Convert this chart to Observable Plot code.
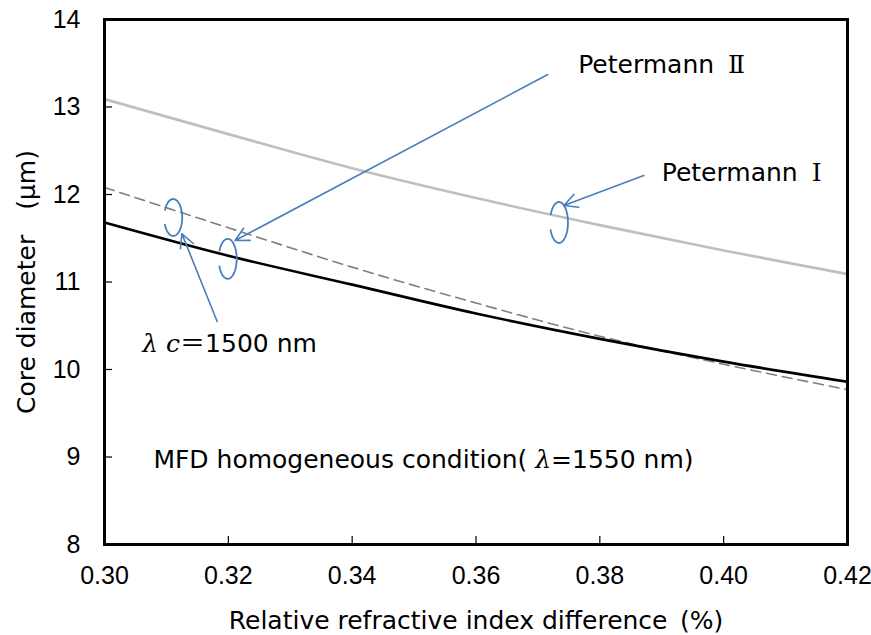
<!DOCTYPE html>
<html><head><meta charset="utf-8">
<script src="https://cdn.jsdelivr.net/npm/d3@7"></script>
<script src="https://cdn.jsdelivr.net/npm/@observablehq/plot@0.6"></script>
<style>html,body{margin:0;padding:0;background:#fff;overflow:hidden}</style>
</head><body><div id="chart"></div>
<script>
// Data
const deltaPct     = [0.30, 0.32, 0.34, 0.36, 0.38, 0.40, 0.42];
const petermannII  = [13.09, 12.69, 12.30, 11.96, 11.65, 11.36, 11.09];
const petermannI   = [12.08, 11.62, 11.17, 10.76, 10.38, 10.06, 9.77];
const lambdaC1500  = [11.68, 11.30, 10.97, 10.64, 10.35, 10.09, 9.86];

const xTicks = [0.30, 0.32, 0.34, 0.36, 0.38, 0.40, 0.42];
const yTicks = [8, 9, 10, 11, 12, 13, 14];

const xTitle = "Relative refractive index difference\u2002(%)";
const yTitle = "Core diameter\u3000(μm)";

// Annotations (data coordinates)
const labelText = ["Petermann Ⅱ", "Petermann Ⅰ", "λ c＝1500 nm", "MFD homogeneous condition( λ=1550 nm)"];
const labelX = [0.3765, 0.3900, 0.3061, 0.3079];
const labelY = [13.48, 12.246, 10.286, 8.971];

const arrowX1 = [0.3716, 0.3871, 0.3182];
const arrowY1 = [13.371, 12.217, 10.549];
const arrowX2 = [0.3211, 0.3742, 0.3125];
const arrowY2 = [11.474, 11.874, 11.551];

const curlX  = [0.3734, 0.3111, 0.3199];
const curlY  = [11.68, 11.737, 11.265];
const curlRy = [20.5, 18.5, 20];

const blue = "#4a7ebb";

function rows(ys) { return deltaPct.map((x, i) => ({x, y: ys[i]})); }
const labels = labelText.map((t, i) => ({t, x: labelX[i], y: labelY[i]}));
const arrows = arrowX1.map((x1, i) => ({x1, y1: arrowY1[i], x2: arrowX2[i], y2: arrowY2[i]}));

function curl(rx, ry) {
  return {
    draw(ctx) {
      const a0 = 202 * Math.PI / 180, a1 = 520 * Math.PI / 180, n = 48;
      for (let i = 0; i <= n; i++) {
        const t = a0 + (a1 - a0) * i / n;
        const px = rx * Math.cos(t), py = ry * Math.sin(t);
        if (i === 0) ctx.moveTo(px, py); else ctx.lineTo(px, py);
      }
    }
  };
}

const W = 871, H = 635;
const mL = 104, mR = 24, mT = 19, mB = 91;
const innerW = W - mL - mR, innerH = H - mT - mB;

const curlMarks = curlX.map((x, i) =>
  Plot.dot([{x, y: curlY[i]}], {x: "x", y: "y", symbol: curl(9, curlRy[i]), stroke: blue, fill: "none", strokeWidth: 1.8})
);

const chart = Plot.plot({
  width: W, height: H,
  marginLeft: mL, marginRight: mR, marginTop: mT, marginBottom: mB,
  style: {fontFamily: "'DejaVu Sans', 'Noto Sans CJK JP', sans-serif", fontSize: "24px", color: "black", background: "white"},
  x: {domain: [0.30, 0.42]},
  y: {domain: [8, 14]},
  marks: [
    Plot.axisX({ticks: xTicks, tickSize: 0, tickPadding: 22, tickFormat: d3.format(".2f"), label: null, fontSize: 25, fontFamily: "'Liberation Sans', Arial, sans-serif"}),
    Plot.axisY({ticks: yTicks, tickSize: 0, tickPadding: 24, tickFormat: d3.format("d"), label: null, fontSize: 25, fontFamily: "'Liberation Sans', Arial, sans-serif"}),
    Plot.tickX(xTicks, {x: d => d, insetTop: innerH - 8, stroke: "black", strokeWidth: 1.2}),
    Plot.tickY(yTicks, {y: d => d, insetRight: innerW - 8, stroke: "black", strokeWidth: 1.2}),
    Plot.line(rows(petermannII), {x: "x", y: "y", stroke: "#bfbfbf", strokeWidth: 2.6, curve: "monotone-x"}),
    Plot.line(rows(petermannI), {x: "x", y: "y", stroke: "#7f7f7f", strokeWidth: 1.6, strokeDasharray: "10,6", curve: "monotone-x"}),
    Plot.line(rows(lambdaC1500), {x: "x", y: "y", stroke: "black", strokeWidth: 2.6, curve: "monotone-x"}),
    Plot.arrow(arrows, {x1: "x1", y1: "y1", x2: "x2", y2: "y2", stroke: blue, strokeWidth: 1.6, headLength: 14, headAngle: 55}),
    ...curlMarks,
    Plot.text(labels, {x: "x", y: "y", text: "t", textAnchor: "start", lineAnchor: "middle", fontSize: 25, fill: "black"}),
    Plot.text([xTitle], {frameAnchor: "bottom", dy: 76, text: d => d, textAnchor: "middle", lineAnchor: "middle", fontSize: 25, fill: "black"}),
    Plot.text([yTitle], {frameAnchor: "left", dx: -78, rotate: -90, text: d => d, textAnchor: "middle", lineAnchor: "middle", fontSize: 25, fill: "black"}),
    Plot.frame({stroke: "black", strokeWidth: 3})
  ]
});

// Style special glyphs: italic λ / c, roman numerals, full-width forms
chart.querySelectorAll("text").forEach(t => {
  if (t.querySelector("tspan")) return;
  const s = t.textContent;
  if (!/[λⅠⅡ＝\u3000]/.test(s)) return;
  t.textContent = "";
  const parts = s.split(/(λ ?c?|[ⅠⅡ＝\u3000])/).filter(p => p !== "");
  for (const p of parts) {
    const ts = document.createElementNS("http://www.w3.org/2000/svg", "tspan");
    ts.textContent = p;
    if (p.startsWith("λ")) {
      ts.setAttribute("font-family", "'DejaVu Serif', serif");
      ts.setAttribute("font-style", "italic");
    } else if (/[ⅠⅡ]/.test(p)) {
      ts.setAttribute("font-family", "'DejaVu Serif', 'Noto Sans CJK JP', serif");
      ts.setAttribute("dx", "6");
    } else if (/[＝\u3000]/.test(p)) {
      ts.setAttribute("font-family", "'Noto Sans CJK JP', sans-serif");
    }
    t.appendChild(ts);
  }
});

document.getElementById("chart").appendChild(chart);
</script>
</body></html>
